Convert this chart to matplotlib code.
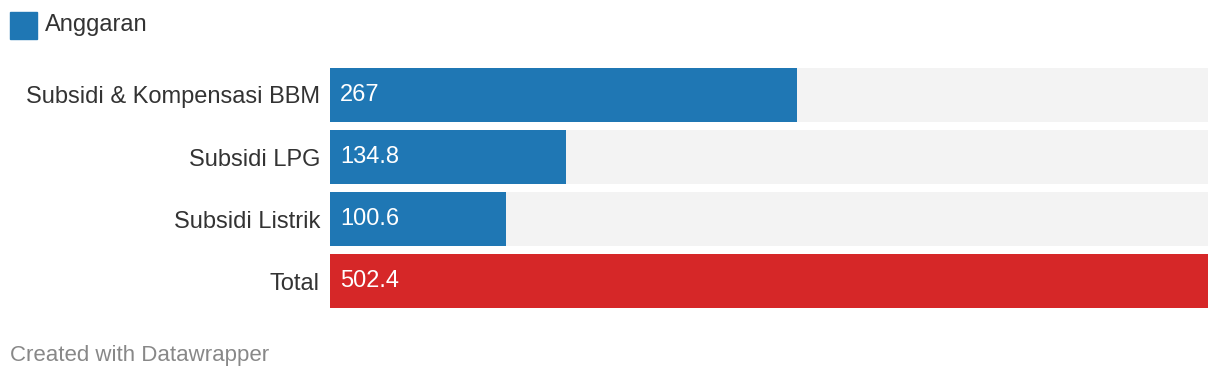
import matplotlib.pyplot as plt
from matplotlib.patches import Rectangle

plt.rcParams['font.family'] = ['Liberation Sans', 'DejaVu Sans']

categories = ['Subsidi & Kompensasi BBM', 'Subsidi LPG', 'Subsidi Listrik', 'Total']
values = [267, 134.8, 100.6, 502.4]
labels = ['267', '134.8', '100.6', '502.4']
colors = ['#1f77b4', '#1f77b4', '#1f77b4', '#d62728']
legend_label = 'Anggaran'

W, H = 1220, 382
fig = plt.figure(figsize=(W / 100, H / 100), dpi=100)

ax = fig.add_axes([330 / W, (H - 308) / H, (1208 - 330) / W, 240 / H])
vmax = max(values)
pos = list(range(len(categories)))
bh = 54 / 62
ax.barh(pos, [vmax] * len(pos), height=bh, color='#f3f3f3')
ax.barh(pos, values, height=bh, color=colors)
ax.set_xlim(0, vmax)
ax.set_ylim(len(pos) - 1 + 0.5 * (240 / 62 - 3), -0.5 * (240 / 62 - 3))
for p, lab in zip(pos, labels):
    ax.text(vmax * 10 / 878, p, lab, color='white', fontsize=17, va='center', ha='left')
ax.set_yticks(pos)
ax.set_yticklabels(categories, fontsize=17, color='#333333')
ax.tick_params(axis='y', length=0, pad=10 / 100 * 72)
ax.set_xticks([])
for s in ax.spines.values():
    s.set_visible(False)

# legend
fig.patches.append(Rectangle((10 / W, (H - 39) / H), 27 / W, 27 / H,
                             transform=fig.transFigure, color='#1f77b4'))
fig.text(45 / W, (H - 25) / H, legend_label, fontsize=17, color='#333333', va='center')

fig.text(10 / W, (H - 356) / H, 'Created with Datawrapper', fontsize=16,
         color='#888888', va='center')

fig.savefig('out.png', dpi=100)
